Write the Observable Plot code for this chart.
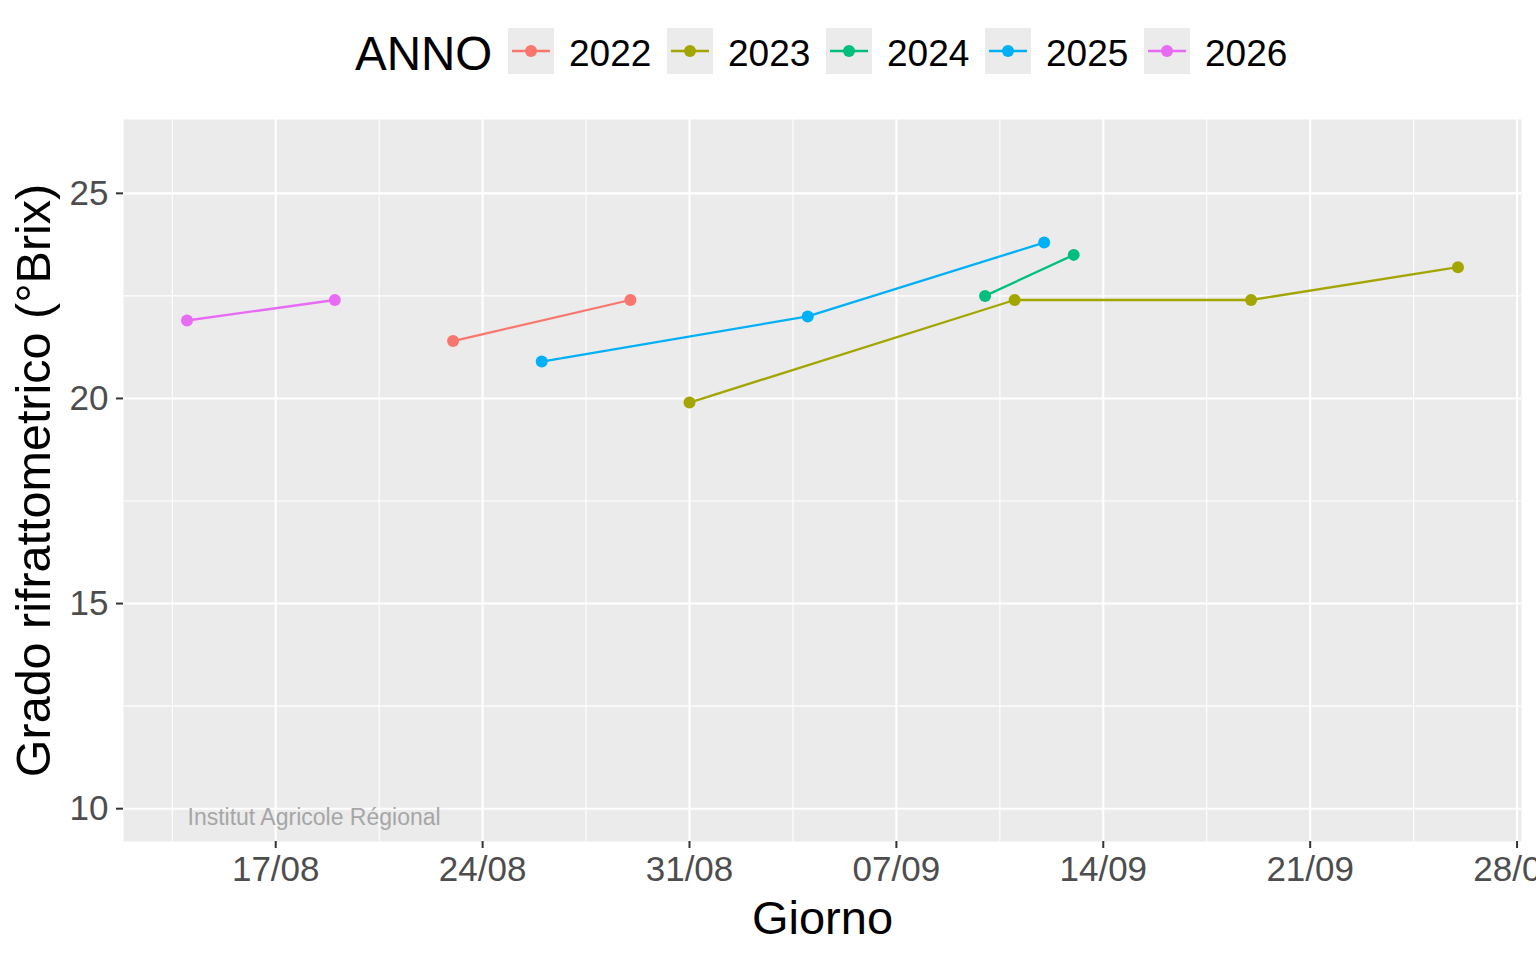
<!DOCTYPE html>
<html>
<head>
<meta charset="utf-8">
<script src="https://cdn.jsdelivr.net/npm/d3@7"></script>
<script src="https://cdn.jsdelivr.net/npm/@observablehq/plot@0.6"></script>
<style>
  html, body { margin: 0; padding: 0; background: white; overflow: hidden; }
  body { width: 1536px; height: 960px; font-family: "Liberation Sans", Arial, Helvetica, sans-serif; }
  #legend { position: relative; width: 1536px; height: 100px; }
  #legend .t { position: absolute; line-height: 1; white-space: nowrap; color: #000; }
  #legend .key { position: absolute; width: 46px; height: 46px; background: #EBEBEB; }
  #chart svg { display: block; overflow: hidden; }
</style>
</head>
<body>
<div id="legend"></div>
<div id="chart"></div>
<script>
// ---- data ----
const years = ["2022", "2023", "2024", "2025", "2026"];
const colors = ["#F8766D", "#A3A500", "#00BF7D", "#00B0F6", "#E76BF3"];

const anno   = ["2022", "2022", "2023", "2023", "2023", "2023", "2024", "2024", "2025", "2025", "2025", "2026", "2026"];
const giorno = ["23/08", "29/08", "31/08", "11/09", "19/09", "26/09", "10/09", "13/09", "26/08", "04/09", "12/09", "14/08", "19/08"];
const brix   = [21.4, 22.4, 19.9, 22.4, 22.4, 23.2, 22.5, 23.5, 20.9, 22.0, 23.8, 21.9, 22.4];

const xTickLabels = ["17/08", "24/08", "31/08", "07/09", "14/09", "21/09", "28/09"];
const yTicks = [10, 15, 20, 25];
const yMinor = [12.5, 17.5, 22.5];
const yDomain = [9.2, 26.8];

const xTitle = "Giorno";
const yTitle = "Grado rifrattometrico (°Brix)";
const legendTitle = "ANNO";
const watermark = "Institut Agricole Régional";

// ---- helpers ----
const parse = s => { const [d, m] = s.split("/").map(Number); return new Date(Date.UTC(2025, m - 1, d)); };
const DAY = 864e5;
const data = anno.map((a, i) => ({anno: a, giorno: parse(giorno[i]), brix: brix[i]}));
const t0 = d3.min(data, d => +d.giorno), t1 = d3.max(data, d => +d.giorno);
const pad = (t1 - t0) * 0.05;
const xDomain = [new Date(t0 - pad), new Date(t1 + pad)];
const xTicks = xTickLabels.map(parse);
const xMinor = [new Date(+xTicks[0] - 3.5 * DAY), ...xTicks.map(d => new Date(+d + 3.5 * DAY))]
  .filter(d => d >= xDomain[0] && d <= xDomain[1]);
const fmt = d3.utcFormat("%d/%m");

// ---- legend ----
const legend = document.getElementById("legend");
const title = document.createElement("div");
title.className = "t";
title.textContent = legendTitle;
title.style.cssText = "left:355px;top:30px;font-size:47.5px;";
legend.appendChild(title);
years.forEach((y, i) => {
  const key = document.createElement("div");
  key.className = "key";
  key.style.left = (508 + 159 * i) + "px";
  key.style.top = "28px";
  key.innerHTML = `<svg width="46" height="46"><line x1="4" y1="23" x2="42" y2="23" stroke="${colors[i]}" stroke-width="2.3"/><circle cx="23" cy="23" r="6" fill="${colors[i]}"/></svg>`;
  legend.appendChild(key);
  const lab = document.createElement("div");
  lab.className = "t";
  lab.textContent = y;
  lab.style.cssText = `left:${569 + 159 * i}px;top:35px;font-size:37px;`;
  legend.appendChild(lab);
});

// ---- chart ----
const grid = {stroke: "white", strokeOpacity: 1};
const chart = Plot.plot({
  width: 1536,
  height: 860,
  marginTop: 19,
  marginBottom: 119,
  marginLeft: 123,
  marginRight: 15,
  style: {fontFamily: "'Liberation Sans', Arial, Helvetica, sans-serif", background: "white", overflow: "hidden"},
  x: {type: "utc", domain: xDomain},
  y: {domain: yDomain},
  color: {domain: years, range: colors},
  marks: [
    Plot.frame({fill: "#EBEBEB", stroke: "none"}),
    Plot.gridY(yMinor, {...grid, strokeWidth: 1.1}),
    Plot.gridX(xMinor, {...grid, strokeWidth: 1.1}),
    Plot.gridY(yTicks, {...grid, strokeWidth: 2.1}),
    Plot.gridX(xTicks, {...grid, strokeWidth: 2.1}),
    Plot.axisY(yTicks, {tickSize: 7, tickPadding: 8, fontSize: 35, stroke: "#333333", fill: "#4D4D4D", strokeWidth: 2, label: null}),
    Plot.axisX(xTicks, {tickSize: 7, tickPadding: 8, fontSize: 35, stroke: "#333333", fill: "#4D4D4D", strokeWidth: 2, label: null, tickFormat: fmt}),
    Plot.text([watermark], {frameAnchor: "bottom-left", textAnchor: "start", lineAnchor: "middle", dx: 64, dy: -24, fontSize: 23, fill: "#A6A6A6"}),
    Plot.line(data, {x: "giorno", y: "brix", z: "anno", stroke: "anno", strokeWidth: 2.3}),
    Plot.dot(data, {x: "giorno", y: "brix", fill: "anno", r: 6}),
    Plot.text([xTitle], {frameAnchor: "bottom", lineAnchor: "middle", textAnchor: "middle", dy: 77, fontSize: 47, fill: "black"}),
    Plot.text([yTitle], {frameAnchor: "left", lineAnchor: "middle", textAnchor: "middle", rotate: -90, dx: -89, fontSize: 48.5, fill: "black"})
  ]
});
document.getElementById("chart").appendChild(chart);
</script>
</body>
</html>
